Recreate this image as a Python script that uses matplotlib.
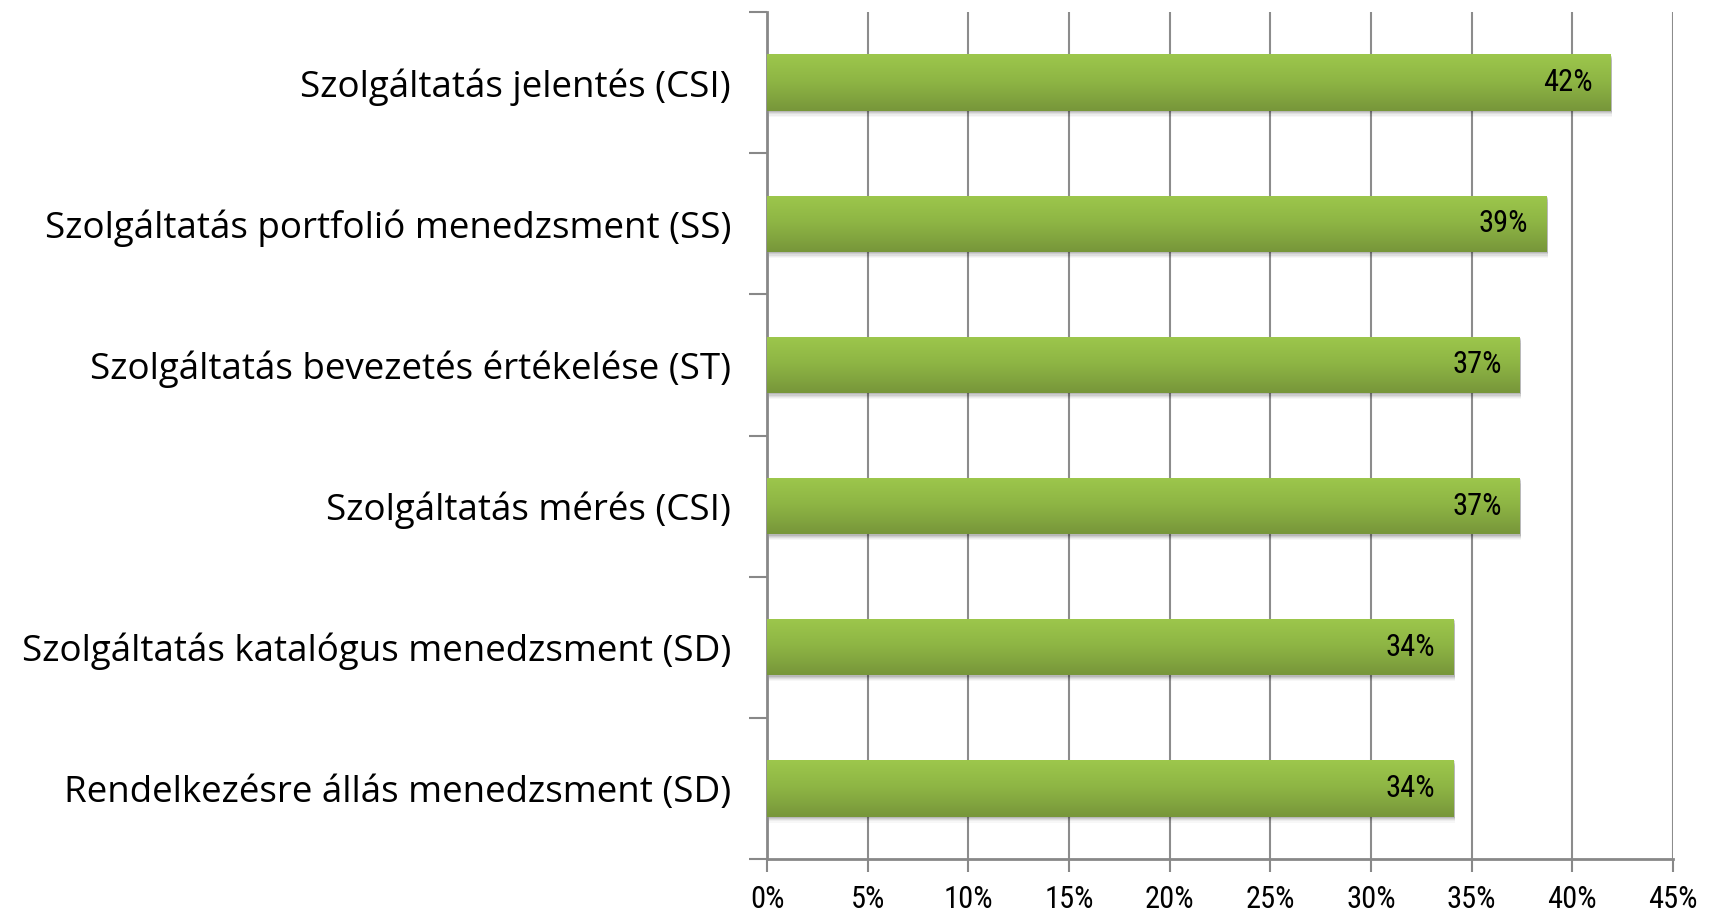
import matplotlib
matplotlib.use("Agg")
import matplotlib.pyplot as plt
import matplotlib.transforms as mtransforms
from matplotlib.colors import LinearSegmentedColormap
from matplotlib.ticker import FixedLocator, FuncFormatter
import numpy as np

categories = [
    "Szolgáltatás jelentés (CSI)",
    "Szolgáltatás portfolió menedzsment (SS)",
    "Szolgáltatás bevezetés értékelése (ST)",
    "Szolgáltatás mérés (CSI)",
    "Szolgáltatás katalógus menedzsment (SD)",
    "Rendelkezésre állás menedzsment (SD)",
]
values = [41.9, 38.7, 37.4, 37.4, 34.1, 34.1]
x_ticks = [0, 5, 10, 15, 20, 25, 30, 35, 40, 45]

num_font = ['Roboto Condensed', 'Liberation Sans', 'DejaVu Sans']
cat_font = ['Open Sans', 'Liberation Sans', 'DejaVu Sans']
plt.rcParams['font.family'] = num_font

fig = plt.figure(figsize=(17.11, 9.14), dpi=100)
ax = fig.add_axes([767/1711, 1 - 859/914, (1673 - 767)/1711, (859 - 12)/914])

n = len(categories)
ypos = np.arange(n)
bar_h = 0.4

bars = ax.barh(ypos, values, height=bar_h, color="#8CB043", edgecolor="none", zorder=3)

cmap = LinearSegmentedColormap.from_list("g", ["#9DC74C", "#8DB444", "#77963A"])
grad = np.linspace(0, 1, 256).reshape(-1, 1)

for b in bars:
    x0, y0 = b.get_x(), b.get_y()
    w, h = b.get_width(), b.get_height()
    # drop shadow
    for k, a in enumerate([0.10, 0.08, 0.06, 0.04, 0.03]):
        off = mtransforms.offset_copy(ax.transData, fig=fig, x=1.5, y=-(k + 1) * 1.2, units="dots")
        sh = plt.Rectangle((x0, y0), w, h, transform=off, facecolor="black",
                           edgecolor="none", alpha=a, zorder=2)
        ax.add_patch(sh)
    im = ax.imshow(grad, cmap=cmap, aspect="auto", extent=(x0, x0 + w, y0 + h, y0),
                   origin="upper", zorder=3.5, interpolation="bilinear")
    im.set_clip_path(b)

for y, v in zip(ypos, values):
    off = mtransforms.offset_copy(ax.transData, fig=fig, x=-18, y=0, units="dots")
    ax.text(v, y, f"{round(v)}%", transform=off, ha="right", va="center",
            fontsize=22, color="black", zorder=5)

ax.set_xlim(0, 45)
ax.set_ylim(n - 0.5, -0.5)

ax.xaxis.set_major_locator(FixedLocator(x_ticks))
ax.xaxis.set_major_formatter(FuncFormatter(lambda v, p: f"{int(round(v))}%"))
ax.tick_params(axis="x", which="major", length=9, width=1.5, color="#888888",
               direction="out", labelsize=22, pad=10)

ax.set_yticks(ypos)
ax.set_yticklabels(categories, family=cat_font)
ax.tick_params(axis="y", which="major", length=0, labelsize=26.5, pad=26)
ax.yaxis.set_minor_locator(FixedLocator(np.arange(-0.5, n, 1.0)))
ax.tick_params(axis="y", which="minor", length=13, width=1.5, color="#888888", direction="out")

ax.grid(axis="x", color="#8C8C8C", linewidth=1.5, zorder=0)
ax.set_axisbelow(True)

for s in ["top", "right"]:
    ax.spines[s].set_visible(False)
for s in ["left", "bottom"]:
    ax.spines[s].set_color("#888888")
    ax.spines[s].set_linewidth(2)

fig.savefig("out.png", dpi=100)
